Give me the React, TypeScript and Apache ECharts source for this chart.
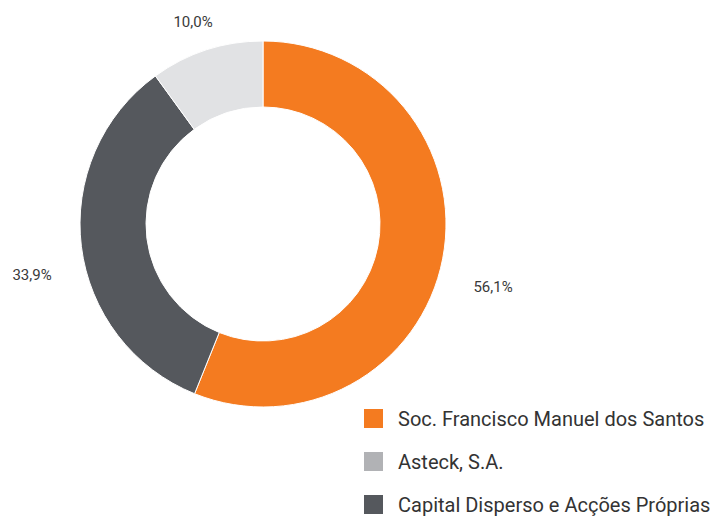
import React, { useEffect, useRef } from "react";
import * as echarts from "echarts";

const categories = ["Soc. Francisco Manuel dos Santos", "Capital Disperso e Acções Próprias", "Asteck, S.A."];
const values = [56.1, 33.9, 10.0];
const sliceColors = ["#F47B20", "#55585D", "#E1E2E4"];
const legendOrder = ["Soc. Francisco Manuel dos Santos", "Asteck, S.A.", "Capital Disperso e Acções Próprias"];
const legendColors = ["#F47B20", "#B1B2B5", "#55585D"];

const labelPos = [
  [493, 287],
  [32, 275],
  [193, 22],
];

export default function App() {
  const ref = useRef<HTMLDivElement>(null);
  useEffect(() => {
    const chart = echarts.init(ref.current!, undefined, { renderer: "svg" });
    chart.setOption({
      animation: false,
      backgroundColor: "#ffffff",
      legend: {
        orient: "vertical",
        left: 362,
        top: 407,
        padding: 0,
        height: 120,
        itemWidth: 21,
        itemHeight: 21,
        itemGap: 20,
        icon: "rect",
        selectedMode: false,
        data: legendOrder.map((n, i) => ({ name: n, itemStyle: { color: legendColors[i] } })),
        textStyle: {
          fontFamily: "Roboto",
          fontSize: 20,
          color: "#333333",
          padding: [0, 0, 0, 9],
        },
      },
      series: [
        {
          type: "pie",
          center: [263, 224],
          radius: [117, 183],
          startAngle: 90,
          clockwise: true,
          itemStyle: { borderColor: "#ffffff", borderWidth: 1 },
          label: {
            show: true,
            position: "outside",
            overflow: "none",
            width: 80,
            formatter: (p: any) => p.value.toFixed(1).replace(".", ",") + "%",
            fontFamily: "Roboto",
            fontSize: 15,
            color: "#3a3a3a",
          },
          labelLine: { show: false },
          labelLayout: (params: any) => {
            const p = labelPos[params.dataIndex];
            return { x: p[0], y: p[1], align: "center", verticalAlign: "middle" };
          },
          emphasis: { disabled: true },
          data: categories.map((n, i) => ({ name: n, value: values[i], itemStyle: { color: sliceColors[i] } })),
        },
      ],
    });
    return () => chart.dispose();
  }, []);
  return <div ref={ref} style={{ position: "fixed", left: 0, top: 0, width: 722, height: 516 }} />;
}
